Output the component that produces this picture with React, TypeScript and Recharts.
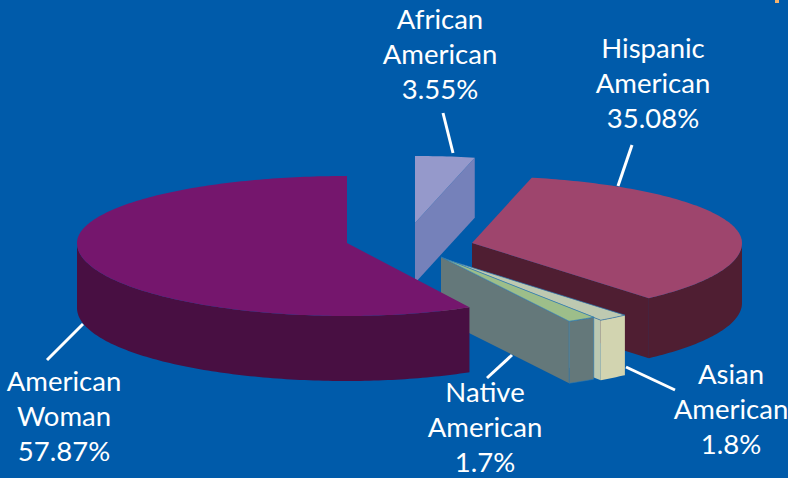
import { PieChart, Pie } from 'recharts';

const sliceNames = ['American Woman', 'Native American', 'Asian American', 'Hispanic American', 'African American'];
const sliceValues = [57.87, 1.7, 1.8, 35.08, 3.55];
const labelLines = [['American', 'Woman'], ['Native', 'American'], ['Asian', 'American'], ['Hispanic', 'American'], ['African', 'American']];

// painter's order: the big slice has to sit over the thin exploded wedges
const drawOrder = ['Hispanic American', 'African American', 'Asian American', 'Native American', 'American Woman'];

const topColors = ['#75166D', '#9DBE8A', '#BEC9B1', '#9E456D', '#9599CB'];
const wallColors = ['#480F42', '#64787A', '#D2D4B0', '#4F1E32', '#7581BA'];
const cutColors = ['#480F42', '#64787A', '#BCC9B2', '#4F1E32', '#7581BA'];
const topEdges = ['none', '#2A78B4', '#2A78B4', 'none', 'none'];
const wallEdges = ['none', '#2A78B4', 'none', 'none', 'none'];

// exploded offset, wall height and right-hand radius per slice
const offsetX = [0, 94, 101, 125, 68];
const offsetY = [0, 14, 17, 0, -20];
const depths = [65, 62, 60, 60, 60];
const rightRadius = [258, 270, 270, 270, 270];

// label anchor (centre x, first line y) and leader line per slice
const labelX = [64, 485, 731, 653, 440];
const labelY = [391, 402, 384, 58, 29];
const leaders = [
  [47, 360, 83, 324],
  [512, 355, 487, 378],
  [626, 367, 675, 390],
  [632, 145, 618, 186],
  [443, 113, 453, 153],
];

const WIDTH = 788;
const HEIGHT = 478;
const RADIUS = 270;
const RY_BACK = 67;
const RY_FRONT = 73;

const chartData = sliceNames.map((name, i) => ({ name, value: sliceValues[i] }));

const sliceShape = (layer: string) => (props: any) => {
  const name = props.payload?.name ?? props.name;
  if (name !== layer) return <g />;
  const i = sliceNames.indexOf(name);
  const cx = props.cx + offsetX[i];
  const cy = props.cy + offsetY[i];
  const { startAngle, endAngle, outerRadius } = props;
  const d = depths[i];

  const pt = (deg: number, drop = 0) => {
    const rad = (deg * Math.PI) / 180;
    const c = Math.cos(rad);
    const s = Math.sin(rad);
    const ry = s >= 0 ? RY_BACK : RY_FRONT;
    const rx = c >= 0 ? rightRadius[i] : outerRadius;
    return `${cx + rx * c},${cy - ry * s + drop}`;
  };
  const arc = (from: number, to: number, drop = 0) => {
    const out: string[] = [];
    for (let a = from; a < to; a += 1) out.push(pt(a, drop));
    out.push(pt(to, drop));
    return out;
  };

  const top = `M${cx},${cy} L${arc(startAngle, endAngle).join(' L')} Z`;

  // only the part of the rim that faces the viewer gets a wall
  const walls: string[] = [];
  [[180, 360], [540, 720]].forEach(([lo, hi]) => {
    const a = Math.max(startAngle, lo);
    const b = Math.min(endAngle, hi);
    if (a < b) {
      walls.push(`M${arc(a, b).join(' L')} L${arc(a, b, d).reverse().join(' L')} Z`);
    }
  });

  const cutVisible = Math.cos((startAngle * Math.PI) / 180) > 0.001;
  const cut = `M${cx},${cy} L${pt(startAngle)} L${pt(startAngle, d)} L${cx},${cy + d} Z`;

  return (
    <g>
      {cutVisible && <path d={cut} fill={cutColors[i]} />}
      {walls.map((w) => (
        <path key={w} d={w} fill={wallColors[i]} stroke={wallEdges[i]} strokeWidth={0.6} />
      ))}
      <path d={top} fill={topColors[i]} stroke={topEdges[i]} strokeWidth={0.7} />
    </g>
  );
};

export default function App() {
  return (
    <div style={{ position: 'absolute', left: 0, top: 0, width: WIDTH, height: HEIGHT, background: '#005BAA', overflow: 'hidden' }}>
      <PieChart width={WIDTH} height={HEIGHT} margin={{ top: 0, right: 0, bottom: 0, left: 0 }}>
        {drawOrder.map((layer) => (
          <Pie
            key={layer}
            data={chartData}
            dataKey="value"
            nameKey="name"
            cx={347}
            cy={243}
            innerRadius={0}
            outerRadius={RADIUS}
            startAngle={90}
            endAngle={450}
            stroke="none"
            label={false}
            labelLine={false}
            isAnimationActive={false}
            shape={sliceShape(layer)}
          />
        ))}
        <g>
          <rect x={775} y={0} width={4} height={3} fill="#F2B26E" />
          {leaders.map((l, i) => (
            <line key={sliceNames[i]} x1={l[0]} y1={l[1]} x2={l[2]} y2={l[3]} stroke="#FFFFFF" strokeWidth={3} />
          ))}
          {sliceNames.map((name, i) => (
            <text key={name} x={labelX[i]} y={labelY[i]} textAnchor="middle" fill="#FFFFFF" fontFamily="Lato" fontSize={27.5}>
              <tspan x={labelX[i]}>{labelLines[i][0]}</tspan>
              <tspan x={labelX[i]} dy={35}>{labelLines[i][1]}</tspan>
              <tspan x={labelX[i]} dy={35}>{sliceValues[i]}%</tspan>
            </text>
          ))}
        </g>
      </PieChart>
    </div>
  );
}
